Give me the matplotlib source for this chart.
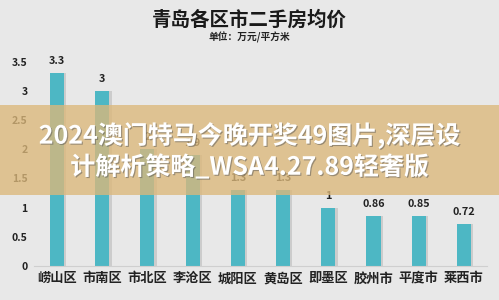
import numpy as np
import matplotlib.pyplot as plt
import matplotlib.patheffects as pe
from matplotlib.patches import Rectangle

plt.rcParams['font.family'] = ['Noto Sans CJK SC', 'DejaVu Sans']

districts = ['崂山区', '市南区', '市北区', '李沧区', '城阳区', '黄岛区', '即墨区', '胶州市', '平度市', '莱西市']
prices = [3.3, 3, 2, 1.9, 1.3, 1.3, 1, 0.86, 0.85, 0.72]
yticks = [0, 0.5, 1, 1.5, 2, 2.5, 3, 3.5]

title = '青岛各区市二手房均价'
subtitle = '单位：万元/平方米'
banner = '2024澳门特马今晚开奖49图片,深层设\n计解析策略_WSA4.27.89轻奢版'

bg = '#e8e8e8'
bar_color = '#4db7c4'

fig = plt.figure(figsize=(4.99, 3.0), dpi=100, facecolor=bg)
ax = fig.add_axes([0.069, 0.114, 0.906, 0.68])
ax.set_facecolor(bg)

x = np.arange(len(districts))
w = 0.31
# soft shadow behind bars
ax.bar(x + 0.05, prices, w, color='#9a9a9a', alpha=0.35, zorder=1)
ax.bar(x, prices, w, color=bar_color, zorder=2)

for xi, v in zip(x, prices):
    ax.text(xi, v + 0.12, f'{v:g}', ha='center', va='bottom', fontsize=7.8,
            fontweight='bold', color='#222222', clip_on=False)

ax.set_xlim(-0.5, len(districts) - 0.5)
ax.set_ylim(0, 3.5)
ax.set_yticks(yticks)
ax.set_yticklabels([f'{t:g}' for t in yticks], fontsize=7.5, fontweight='bold', color='#222222')
ax.set_xticks(x)
ax.set_xticklabels(districts, fontsize=9.5, fontweight='bold', color='#222222')
ax.tick_params(length=0, pad=4)
ax.tick_params(axis='y', pad=5)
for s in ['top', 'right', 'left']:
    ax.spines[s].set_visible(False)
ax.spines['bottom'].set_color('#cfcfcf')

fig.text(0.5, 0.935, title, ha='center', va='center', fontsize=14, fontweight='bold', color='#1a1a1a')
fig.text(0.5, 0.877, subtitle, ha='center', va='center', fontsize=7, fontweight='bold', color='#222222')

# overlay banner
fig.patches.append(Rectangle((0, 0.35), 1, 0.3, transform=fig.transFigure,
                             facecolor='#dcb87a', alpha=0.78, zorder=5))
fig.text(0.5, 0.497, banner, ha='center', va='center', fontsize=18, fontweight='bold',
         color='white', linespacing=1.25, zorder=6,
         path_effects=[pe.withSimplePatchShadow(offset=(0.8, -0.8), shadow_rgbFace='#555555', alpha=0.5)])

fig.savefig('out.png', dpi=100, facecolor=bg)
